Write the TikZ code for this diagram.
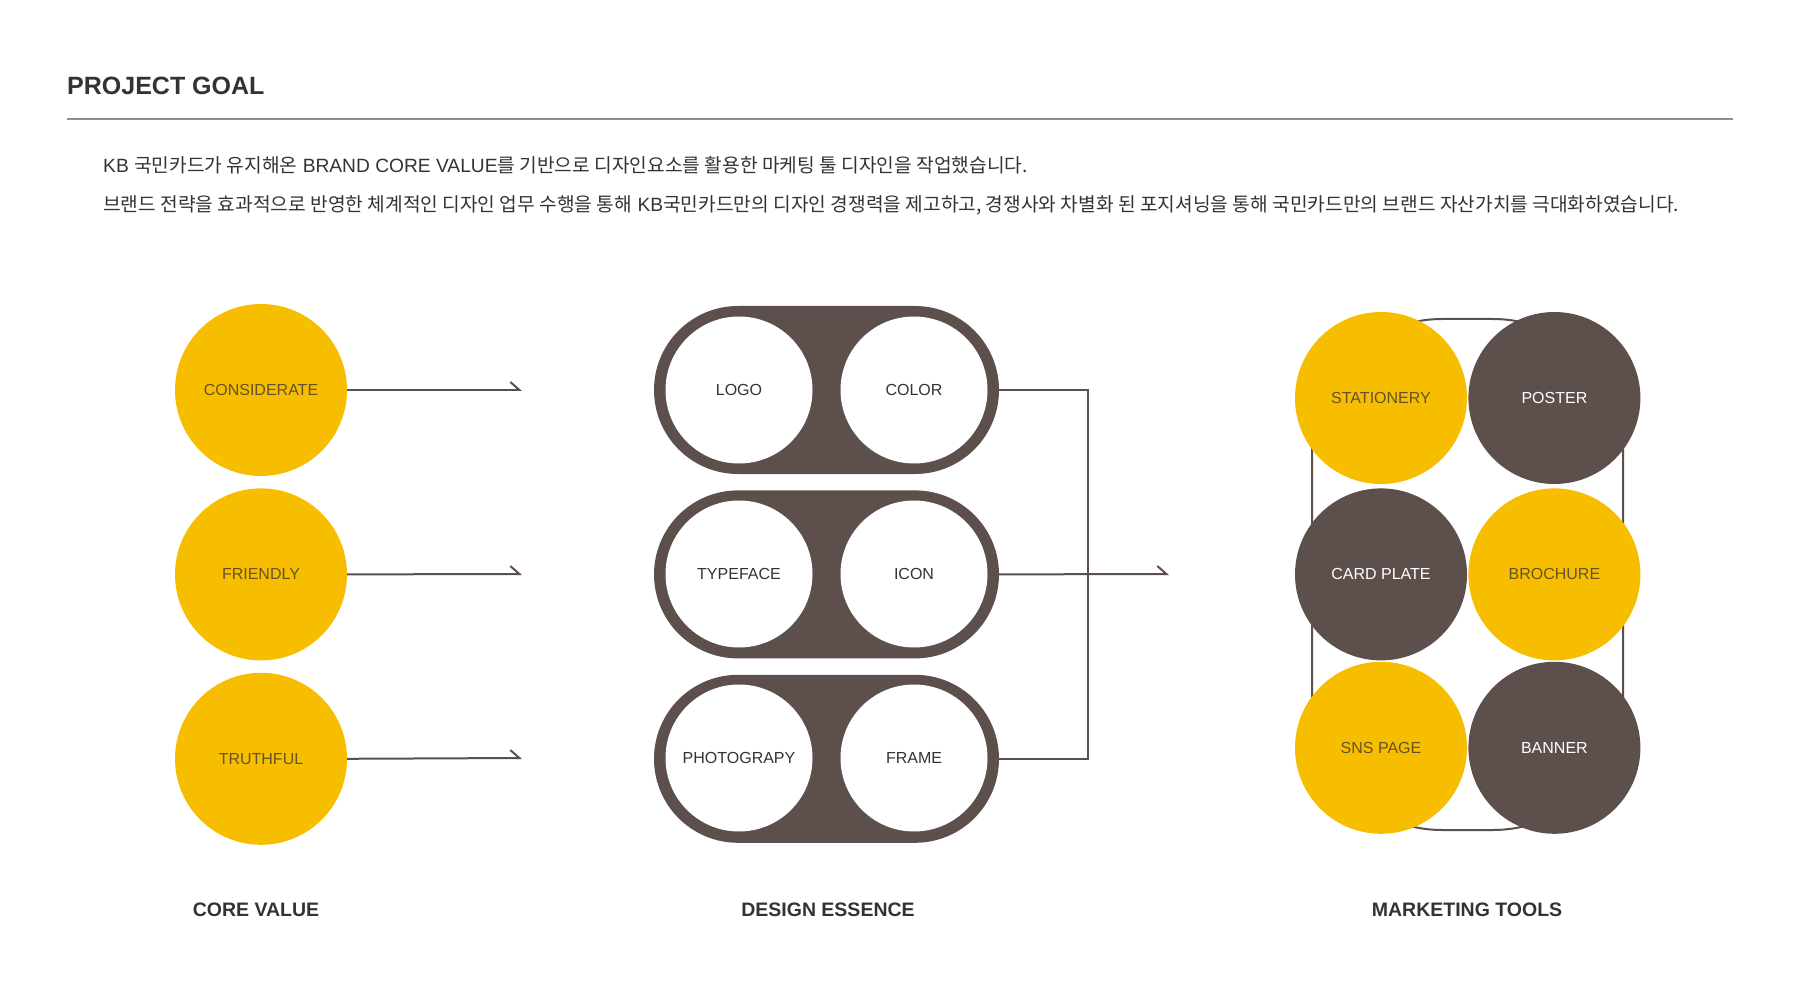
\documentclass[tikz,border=0pt]{standalone}
\usepackage{fontspec}
\setmainfont{Liberation Sans}
\newfontfamily\krfont{Noto Sans CJK KR}
\usetikzlibrary{arrows.meta, positioning}
\definecolor{kbyellow}{RGB}{247,190,0}
\definecolor{kbbrown}{RGB}{93,80,76}
\definecolor{kbtext}{RGB}{102,82,40}
\definecolor{kbgray}{RGB}{51,51,51}
\definecolor{kbrule}{RGB}{140,140,140}

\begin{document}
\begin{tikzpicture}[x=1pt, y=1pt,
    node distance=12pt,
    value/.style={circle, fill=kbyellow, minimum size=172pt, inner sep=0pt,
                  text=kbtext, font=\fontsize{16}{19}\selectfont},
    pill/.style={rectangle, rounded corners=84pt, fill=kbbrown,
                 minimum width=345pt, minimum height=168pt},
    essence/.style={circle, fill=white, minimum size=147pt, inner sep=0pt,
                    text=kbgray, font=\fontsize{16}{19}\selectfont},
    tool/.style={circle, minimum size=172pt, inner sep=0pt,
                 font=\fontsize{16}{19}\selectfont},
    ytool/.style={tool, fill=kbyellow, text=kbtext},
    btool/.style={tool, fill=kbbrown, text=white},
    caption/.style={font=\fontsize{19.5}{23}\selectfont\bfseries, text=kbgray},
    intro/.style={anchor=west, inner sep=0pt, text=kbgray,
                  font=\fontsize{19.2}{23}\selectfont},
    link/.style={draw=kbbrown, line width=2pt},
    harp/.style={link, -{Straight Barb[left, length=9pt, width=16pt]}}
  ]
  \useasboundingbox (0,0) rectangle (1800,-1000);

  % heading
  \node[anchor=west, inner sep=0pt, font=\fontsize{25}{30}\selectfont\bfseries,
        text=kbgray] (title) at (67,-86) {PROJECT GOAL};
  \draw[kbrule, line width=2pt] (67,-119) -- (1733,-119);
  \node[intro] (intro1) at (103,-165) {KB {\krfont 국민카드가 유지해온} BRAND CORE VALUE{\krfont 를 기반으로 디자인요소를 활용한 마케팅 툴 디자인을 작업했습니다.}};
  \node[intro] (intro2) at (103,-205) {{\krfont 브랜드 전략을 효과적으로 반영한 체계적인 디자인 업무 수행을 통해} KB{\krfont 국민카드만의 디자인 경쟁력을 제고하고, 경쟁사와 차별화 된 포지셔닝을 통해 국민카드만의 브랜드 자산가치를 극대화하였습니다.}};

  % core value
  \node[value] (cv1) at (261,-390) {CONSIDERATE};
  \node[value, below=of cv1] (cv2) {FRIENDLY};
  \node[value, below=of cv2] (cv3) {TRUTHFUL};
  \coordinate (tip1) at (522,-390);
  \coordinate (tip2) at (522,-574);
  \coordinate (tip3) at (522,-758);
  \draw[harp] (cv1.east) -- (tip1);
  \draw[harp] (cv2.east) -- (tip2);
  \draw[harp] (cv3.east) -- (tip3);

  % design essence
  \node[pill] (es1) at (826.5,-390) {};
  \node[pill, below=16pt of es1] (es2) {};
  \node[pill, below=16pt of es2] (es3) {};
  \node[essence] (logo) at (739,-390) {LOGO};
  \node[essence] (colour) at (914,-390) {COLOR};
  \node[essence] (typeface) at (739,-574) {TYPEFACE};
  \node[essence] (icon) at (914,-574) {ICON};
  \node[essence] (photo) at (739,-758) {PHOTOGRAPY};
  \node[essence] (frame) at (914,-758) {FRAME};

  \coordinate (bus) at (1088,-574);
  \coordinate (tip4) at (1169,-574);
  \draw[link] (es1.east) -| (bus) |- (es3.east);
  \draw[harp] (es2.east) -- (tip4);

  % marketing tools
  \node[draw=kbbrown, line width=2pt, rounded corners=130pt,
        minimum width=311pt, minimum height=511pt] (toolbox) at (1467.5,-574.5) {};
  \node[ytool] (stat) at (1381,-398) {STATIONERY};
  \node[btool, right=1pt of stat] (poster) {POSTER};
  \node[btool, below=4pt of stat] (card) {CARD PLATE};
  \node[ytool, below=4pt of poster] (broch) {BROCHURE};
  \node[ytool, below=1pt of card] (sns) {SNS PAGE};
  \node[btool, below=1pt of broch] (banner) {BANNER};

  % captions
  \node[caption] (cap1) at (256,-910) {CORE VALUE};
  \node[caption] (cap2) at (828,-910) {DESIGN ESSENCE};
  \node[caption] (cap3) at (1467,-910) {MARKETING TOOLS};
\end{tikzpicture}
\end{document}
